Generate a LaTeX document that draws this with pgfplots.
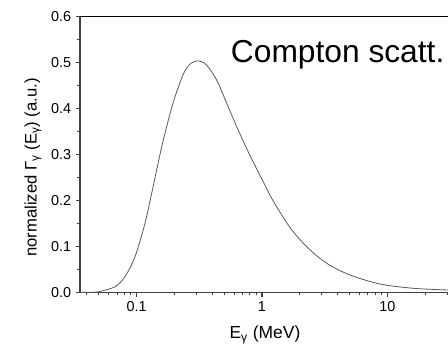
\documentclass[border=0pt]{standalone}
\usepackage{fontspec}
\setmainfont{Liberation Sans}
\usepackage{pgfplots}
\pgfplotsset{compat=1.18}
\begin{document}
\begin{tikzpicture}
\path[use as bounding box] (0pt,0pt) rectangle (336pt,261.75pt);
\begin{axis}[
  at={(60pt,42.525pt)}, anchor=south west,
  scale only axis, width=276pt, height=207pt,
  xmode=log, xmin=0.0353, xmax=30.5,
  ymin=0, ymax=0.6,
  axis x line*=bottom, axis y line*=left,
  axis line style={draw=black!75, line width=1.1pt},
  tick align=outside,
  major tick length=3.2pt, minor tick length=2pt,
  every tick/.style={black!75, line width=0.8pt},
  xtick={0.1,1,10}, xticklabels={0.1,1,10},
  minor xtick={0.04,0.05,0.06,0.07,0.08,0.09,0.2,0.3,0.4,0.5,0.6,0.7,0.8,0.9,2,3,4,5,6,7,8,9,20,30},
  ytick={0,0.1,...,0.6}, minor y tick num=1,
  yticklabel style={/pgf/number format/.cd, fixed, fixed zerofill, precision=1},
  /pgf/number format/assume math mode=true,
  tick label style={font=\fontsize{10.8}{13}\selectfont},
  xlabel={E\textsubscript{γ} (MeV)},
  ylabel={normalized Γ\textsubscript{γ} (E\textsubscript{γ}) (a.u.)},
  xlabel style={font=\fontsize{13.1}{15}\selectfont, at={(axis description cs:0.5027,-0.168)}, anchor=base},
  ylabel style={font=\fontsize{12.5}{14}\selectfont, at={(axis description cs:-0.128,0.452)}, anchor=center},
]
\addplot[black!65, line width=0.6pt, smooth, tension=0.5] coordinates {
(0.0353,0) (0.045,0.0) (0.0494,0.001) (0.0671,0.012) (0.0806,0.034) (0.0969,0.077)
(0.1165,0.150) (0.1317,0.215) (0.1444,0.266) (0.1631,0.331) (0.1959,0.413)
(0.2354,0.474) (0.266,0.496) (0.3012,0.503) (0.331,0.501) (0.3620,0.494) (0.4350,0.4615) (0.5228,0.411)
(0.6283,0.360) (0.7776,0.305) (1.024,0.240) (1.231,0.198)
(1.673,0.141) (2.274,0.099) (3.284,0.063) (5.040,0.0376) (8.745,0.018)
(16.13,0.0087) (30.5,0.005)
};
\draw[black, line width=0.8pt] (rel axis cs:0,1) -- (rel axis cs:1,1);
\node[anchor=base west, font=\fontsize{23.8}{28}\selectfont, inner sep=0pt] at (axis description cs:0.4095,0.832) {Compton scatt.};
\end{axis}
\end{tikzpicture}
\end{document}
